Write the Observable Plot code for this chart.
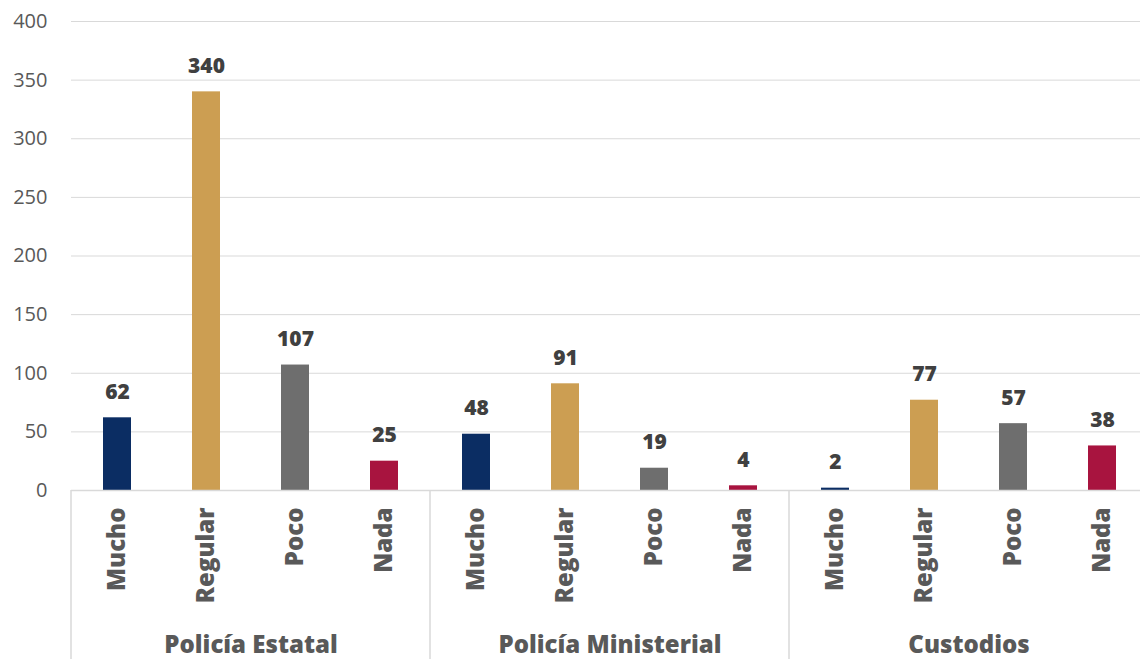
<!DOCTYPE html>
<html>
<head>
<meta charset="utf-8">
<script src="https://cdn.jsdelivr.net/npm/d3@7"></script>
<script src="https://cdn.jsdelivr.net/npm/@observablehq/plot@0.6"></script>
<style>
  html, body { margin: 0; padding: 0; background: #ffffff; }
  #chart svg { display: block; }
</style>
</head>
<body>
<div id="chart"></div>
<script>
const groups = ["Policía Estatal", "Policía Ministerial", "Custodios"];
const categories = ["Mucho", "Regular", "Poco", "Nada"];
const policiaEstatal = [62, 340, 107, 25];
const policiaMinisterial = [48, 91, 19, 4];
const custodios = [2, 77, 57, 38];
const yTicks = [0, 50, 100, 150, 200, 250, 300, 350, 400];
const colors = ["#0b2d63", "#cc9e52", "#6e6e6e", "#a8143f"];

const series = [policiaEstatal, policiaMinisterial, custodios];
const data = groups.flatMap((g, i) =>
  categories.map((c, j) => ({ group: g, category: c, value: series[i][j] }))
);

const chart = Plot.plot({
  width: 1140,
  height: 659,
  marginLeft: 70,
  marginRight: 2,
  marginTop: 21,
  marginBottom: 169,
  style: { fontFamily: "'Open Sans', sans-serif", background: "#ffffff" },
  fx: { domain: groups, padding: 0, range: [70, 1148.5], label: null },
  x: { domain: categories, paddingInner: 0.68, paddingOuter: 0.34, label: null },
  y: { domain: [0, 400], label: null },
  color: { domain: categories, range: colors },
  marks: [
    Plot.gridY(yTicks, { stroke: "#d9d9d9", strokeOpacity: 1 }),
    Plot.axisY(yTicks, { tickSize: 0, tickPadding: 24, fontSize: 20, fill: "#595959", label: null }),
    Plot.barY(data, { fx: "group", x: "category", y: "value", fill: "category" }),
    Plot.ruleY([0], { stroke: "#d9d9d9", strokeWidth: 1.5 }),
    Plot.text(data, {
      fx: "group", x: "category", y: "value", text: "value",
      lineAnchor: "bottom", dy: -19, fontSize: 21, fontWeight: 800, fill: "#404040"
    }),
    Plot.axisX({ tickRotate: -90, tickSize: 0, tickPadding: 17, fontSize: 24, fontWeight: 800, fill: "#595959", label: null }),
    Plot.axisFx({ anchor: "bottom", tickSize: 0, tickPadding: 145, fontSize: 24, fontWeight: 800, fill: "#595959", label: null })
  ]
});

// Group separator lines, positioned from the chart's own scales
const fxScale = chart.scale("fx");
const yScale = chart.scale("y");
const y0 = yScale.apply(0);
const svg = d3.select(chart);
svg.append("g")
  .attr("stroke", "#d9d9d9")
  .attr("stroke-width", 1.5)
  .selectAll("line")
  .data(groups)
  .join("line")
  .attr("x1", d => fxScale.apply(d))
  .attr("x2", d => fxScale.apply(d))
  .attr("y1", y0)
  .attr("y2", 659);

document.getElementById("chart").appendChild(chart);
</script>
</body>
</html>
